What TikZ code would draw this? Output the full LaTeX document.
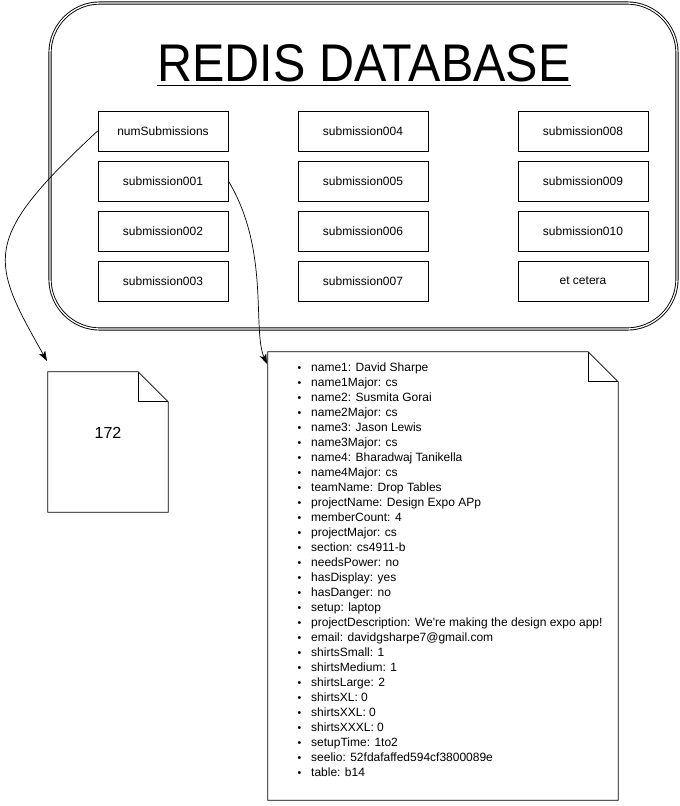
\documentclass[tikz,border=0pt]{standalone}
\usepackage{fontspec}
\setmainfont{Liberation Sans}
\usetikzlibrary{arrows.meta}
\begin{document}
\begin{tikzpicture}[x=1pt,y=-1pt,
  key/.style={draw, line width=0.8pt, minimum width=130pt, minimum height=40pt, inner sep=0pt, font=\fontsize{12}{14}\selectfont},
  conn/.style={line width=0.7pt, -{Stealth[length=10pt,width=7pt,inset=2.5pt]}},
  docline/.style={line width=0.8pt, line join=miter},
  item/.style={anchor=base west, inner sep=0pt, font=\fontsize{12}{15}\selectfont}]
\useasboundingbox (0,0) rectangle (680,806);
% outer database box
\node (db) [draw, double, line width=0.9pt, double distance=1.3pt, rounded corners=50pt,
  minimum width=627pt, minimum height=326pt, inner sep=0pt] at (363.5,166) {};
\node (title) [anchor=base, inner sep=0pt, font=\fontsize{53}{60}\selectfont]
  at (364,81) {\scalebox{0.915}[1]{REDIS DATABASE}};
\draw[line width=1.6pt] ([yshift=-4.5pt]title.base west) -- ([yshift=-4.5pt]title.base east);
% keys
\node[key] (num) at (163,131) {numSubmissions};
\node[key] (s001) at (163,181) {submission001};
\node[key] (s002) at (163,231) {submission002};
\node[key] (s003) at (163,281) {submission003};
\node[key] (s004) at (363,131) {submission004};
\node[key] (s005) at (363,181) {submission005};
\node[key] (s006) at (363,231) {submission006};
\node[key] (s007) at (363,281) {submission007};
\node[key] (s008) at (583,131) {submission008};
\node[key] (s009) at (583,181) {submission009};
\node[key] (s010) at (583,231) {submission010};
\node[key] (etc) at (583,281) {et cetera};
% document 1
\node (doc1) [minimum width=120pt, minimum height=140pt, inner sep=0pt] at (108,442) {};
\draw[docline] (doc1.north west) -- ([xshift=-30pt]doc1.north east) -- ([yshift=-30pt]doc1.north east)
  -- (doc1.south east) -- (doc1.south west) -- cycle;
\draw[docline] ([xshift=-30pt]doc1.north east) -- ([xshift=-30pt,yshift=-30pt]doc1.north east) -- ([yshift=-30pt]doc1.north east);
\node (val) [font=\fontsize{16}{18}\selectfont, inner sep=0pt] at (108,433) {172};
% document 2
\node (doc2) [minimum width=350pt, minimum height=448pt, inner sep=0pt] at (443,576) {};
\draw[docline] (doc2.north west) -- ([xshift=-30pt]doc2.north east) -- ([yshift=-30pt]doc2.north east)
  -- (doc2.south east) -- (doc2.south west) -- cycle;
\draw[docline] ([xshift=-30pt]doc2.north east) -- ([xshift=-30pt,yshift=-30pt]doc2.north east) -- ([yshift=-30pt]doc2.north east);
\foreach \t [count=\i from 0] in {
  {name1: David Sharpe},{name1Major: cs},{name2: Susmita Gorai},{name2Major: cs},
  {name3: Jason Lewis},{name3Major: cs},{name4: Bharadwaj Tanikella},{name4Major: cs},
  {teamName: Drop Tables},{projectName: Design Expo APp},{memberCount: 4},{projectMajor: cs},
  {section: cs4911-b},{needsPower: no},{hasDisplay: yes},{hasDanger: no},{setup: laptop},
  {projectDescription: We\textquotesingle re making the design expo app!},
  {email: davidgsharpe7@gmail.com},{shirtsSmall: 1},{shirtsMedium: 1},{shirtsLarge: 2},
  {shirtsXL: 0},{shirtsXXL: 0},{shirtsXXXL: 0},{setupTime: 1to2},
  {seelio: 52fdafaffed594cf3800089e},{table: b14}}
  \node[item] (item\i) at (297.5,371.5+15*\i) {\makebox[13.5pt][l]{\fontsize{10.5}{10}\selectfont\raisebox{0.5pt}{\textbullet}}\t};
% connectors
\coordinate (e1) at (47,361);
\coordinate (e2) at (267,364);
\draw[conn] (num.west) .. controls (-20,240) and (-10,260) .. (e1);
\draw[conn] (s001.east) .. controls (270,250) and (252,330) .. (e2);
\end{tikzpicture}
\end{document}
